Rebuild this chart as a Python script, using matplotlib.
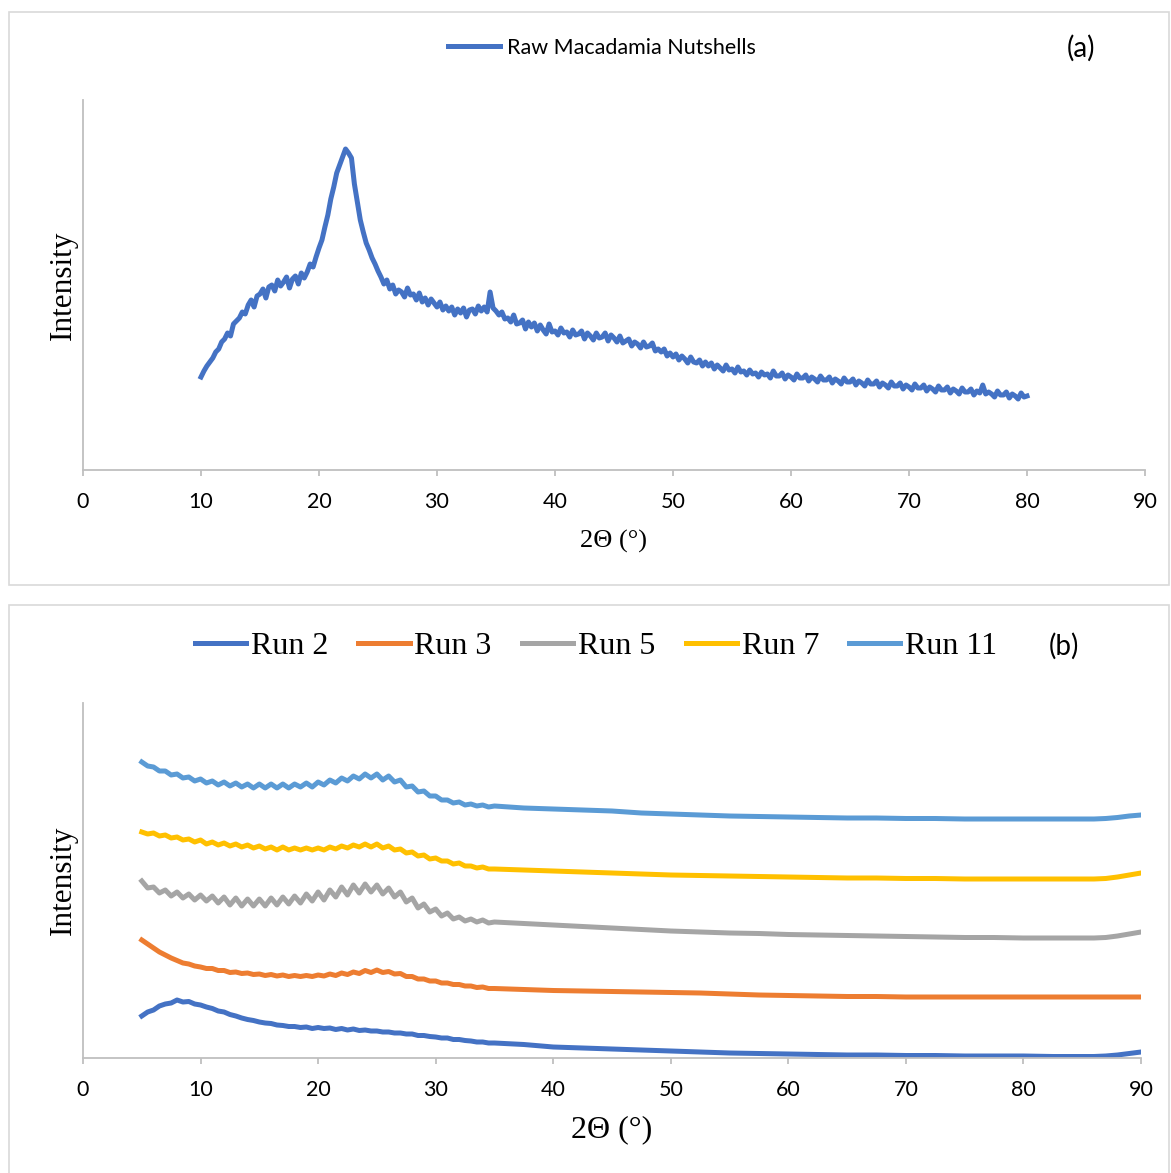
import numpy as np
import matplotlib.pyplot as plt
from matplotlib.patches import Rectangle

# ---- panel (a): raw macadamia nutshells, 10-80 deg in 0.25 steps ----
x_raw = np.arange(10, 80.01, 0.25)
raw = [
    93, 99, 104, 108, 112, 118, 121, 128, 131, 137, 134, 146,
    149, 152, 158, 156, 165, 170, 163, 174, 176, 181, 172, 183,
    185, 179, 190, 184, 188, 193, 182, 191, 194, 186, 197, 192,
    198, 206, 203, 213, 222, 230, 243, 255, 271, 283, 297, 305,
    313, 321, 317, 312, 286, 268, 250, 238, 227, 220, 212, 206,
    199, 193, 186, 190, 181, 185, 176, 180, 178, 173, 182, 175,
    176, 170, 177, 168, 172, 165, 171, 167, 163, 168, 160, 164,
    159, 163, 155, 161, 157, 162, 153, 160, 161, 156, 164, 159,
    163, 158, 178, 162, 159, 155, 158, 151, 152, 148, 155, 146,
    147, 150, 141, 148, 143, 147, 139, 145, 140, 136, 146, 138,
    139, 135, 142, 137, 138, 133, 140, 135, 136, 139, 131, 137,
    134, 130, 137, 132, 133, 137, 129, 135, 132, 128, 134, 127,
    129, 131, 124, 128, 126, 122, 128, 123, 124, 127, 119, 121,
    118, 121, 114, 117, 113, 116, 110, 114, 111, 107, 113, 108,
    107, 110, 104, 108, 104, 107, 101, 105, 102, 99, 105, 100,
    101, 97, 103, 98, 99, 95, 100, 96, 97, 93, 98, 95,
    96, 92, 99, 94, 94, 97, 91, 95, 93, 90, 96, 92,
    92, 95, 89, 93, 91, 88, 94, 90, 90, 93, 87, 91,
    89, 86, 92, 88, 88, 91, 85, 89, 87, 84, 90, 86,
    86, 89, 83, 87, 85, 82, 88, 84, 84, 87, 81, 85,
    83, 80, 86, 82, 82, 85, 79, 83, 81, 78, 84, 80,
    80, 83, 77, 81, 79, 76, 82, 78, 78, 81, 75, 79,
    77, 85, 76, 78, 76, 73, 79, 75, 75, 78, 72, 76,
    74, 71, 77, 73, 74,
]

# ---- panel (b): runs, 5-35 in 0.5 steps, then coarser ----
x_run = np.concatenate([np.arange(5, 35.01, 0.5), np.arange(37.5, 85.01, 2.5),
                        [86, 87, 88, 89, 90]])

run11 = [296, 292, 291, 287, 287, 283, 284, 280, 281, 277, 279, 275, 277, 273, 276, 272,
         275, 271, 274, 270, 274, 270, 274, 270, 274, 270, 274, 271, 275, 271, 276, 273,
         278, 275, 280, 277, 282, 279, 284, 280, 284, 278, 282, 276, 278, 271, 272, 266,
         267, 262, 262, 258, 258, 255, 256, 253, 254, 252, 253, 251, 252,
         250, 249, 248, 247, 245, 244, 243, 242, 241.5, 241, 240.5, 240, 240, 239.5,
         239.5, 239, 239, 239, 239, 239, 239, 239.5, 240.5, 242, 243]
run7 = [226, 224, 225, 222, 223, 220, 221, 218, 219, 216, 218, 214, 216, 213, 215, 212,
        214, 211, 213, 210, 212, 209, 211, 208, 211, 208, 210, 208, 210, 208, 210, 208,
        211, 209, 212, 210, 213, 211, 214, 211, 214, 210, 212, 208, 209, 205, 206, 202,
        203, 199, 200, 197, 197, 194, 195, 192, 192, 190, 191, 189, 189,
        188, 187, 186, 185, 184, 183, 182.5, 182, 181.5, 181, 180.5, 180, 180, 179.5,
        179.5, 179, 179, 179, 179, 179, 179, 179.5, 181, 183, 185]
run5 = [177, 170, 171, 165, 168, 162, 166, 160, 164, 158, 163, 157, 162, 155, 161, 153,
        160, 152, 159, 152, 159, 152, 160, 153, 161, 154, 162, 155, 164, 157, 166, 158,
        168, 161, 171, 163, 173, 165, 174, 166, 173, 164, 170, 161, 166, 156, 160, 150,
        154, 146, 149, 142, 145, 139, 141, 137, 139, 136, 138, 135, 136,
        134.5, 133, 131.5, 130, 128.5, 127, 126, 125, 124.5, 123.5, 123, 122.5, 122,
        121.5, 121, 120.5, 120.5, 120, 120, 120, 120, 120.5, 122, 124, 126]
run3 = [118, 114, 110, 106, 103, 100, 97.5, 95, 94, 92, 91, 89.5, 89.5, 87.5, 87.5, 85.5,
        86, 84.5, 85, 83.5, 84, 82.5, 83.5, 82, 83, 81.5, 82.5, 81.5, 82.5, 81.5, 83, 82,
        84, 82.5, 85, 83.5, 86, 84.5, 87.5, 85.5, 88, 85.5, 86.5, 84, 84.5, 81.5, 81.5, 79,
        79, 77, 77, 75, 75, 73.5, 73.5, 72, 72, 70.5, 71, 69.5, 69.5,
        68.5, 67.5, 67, 66.5, 66, 65.5, 65, 64, 63, 62.5, 62, 61.5, 61.5, 61,
        61, 61, 61, 61, 61, 61, 61, 61, 61, 61, 61]
run2 = [42, 46, 48, 52, 54, 55, 58, 56, 56.5, 54, 53, 51, 49.5, 47, 46, 43.5,
        42, 40, 38.5, 37.5, 36, 35, 34.5, 33, 32.5, 31.5, 31.5, 30.5, 31, 29.5, 30.5, 29.5,
        30, 28.5, 29.5, 28, 29, 27.5, 28, 27, 27, 26, 26, 25, 25, 24, 24, 22.5,
        22.5, 21.5, 21, 20, 20, 18.5, 18.5, 17.5, 17, 16, 16, 15, 15,
        13.5, 11, 10, 9, 8, 7, 6, 5, 4.5, 4, 3.5, 3, 3, 2.5,
        2.5, 2, 2, 2, 1.5, 1.5, 1.5, 2, 3, 4.5, 6]

runs = [("Run 2", run2, "#4472C4"), ("Run 3", run3, "#ED7D31"),
        ("Run 5", run5, "#A5A5A5"), ("Run 7", run7, "#FFC000"),
        ("Run 11", run11, "#5B9BD5")]
xticks = list(range(0, 91, 10))

W, H = 1171, 1173
SANS = "Lato"
SERIF = "Liberation Serif"
AX_COL = "#BFBFBF"


def box(l, t, r, b):
    return [l / W, 1 - b / H, (r - l) / W, (b - t) / H]


def style(ax, ymax, xlab_size, labelpad):
    ax.set_xlim(0, 90)
    ax.set_ylim(0, ymax)
    ax.set_xticks(xticks)
    ax.set_yticks([])
    for s in ("top", "right"):
        ax.spines[s].set_visible(False)
    for s in ("left", "bottom"):
        ax.spines[s].set_color(AX_COL)
        ax.spines[s].set_linewidth(1.3)
    ax.tick_params(axis="x", direction="out", length=4, width=1.3, color=AX_COL,
                   pad=12, labelsize=15.5)
    for lab in ax.get_xticklabels():
        lab.set_fontfamily(SANS)
    ax.set_xlabel("2\u0398 (\u00b0)", family=SERIF, fontsize=xlab_size, labelpad=labelpad)
    ax.set_ylabel("Intensity", family=SERIF, fontsize=22.5, labelpad=4)


fig = plt.figure(figsize=(W / 100, H / 100), dpi=100)

# panel frames
for (l, t, r, b) in [(9, 12, 1169, 585), (9, 605, 1169, 1180)]:
    fig.add_artist(Rectangle((l / W, 1 - b / H), (r - l) / W, (b - t) / H,
                             transform=fig.transFigure, fill=False,
                             edgecolor="#D9D9D9", linewidth=1.2))

# (a)
ax1 = fig.add_axes(box(83, 100, 1145, 470))
ax1.plot(x_raw, raw, color="#4472C4", lw=3.6, label="Raw Macadamia Nutshells")
style(ax1, 370, 19, 13)
fig.legend(*ax1.get_legend_handles_labels(), loc="center",
           bbox_to_anchor=(602 / W, 1 - 48 / H), frameon=False,
           prop={"family": SANS, "size": 15.5}, handlelength=2.4, handletextpad=0.35)
fig.text(1081 / W, 1 - 48 / H, "(a)", family=SANS, fontsize=20, ha="center", va="center")

# (b)
ax2 = fig.add_axes(box(83, 703, 1141, 1058))
for name, vals, col in runs:
    ax2.plot(x_run, vals, color=col, lw=3.6, label=name)
style(ax2, 355, 23, 11)
fig.legend(*ax2.get_legend_handles_labels(), loc="center", ncol=5,
           bbox_to_anchor=(596 / W, 1 - 646 / H), frameon=False,
           prop={"family": SERIF, "size": 23}, handlelength=1.6, handletextpad=0.15,
           columnspacing=0.95)
fig.text(1064 / W, 1 - 646 / H, "(b)", family=SANS, fontsize=20, ha="center", va="center")

fig.savefig("out.png", dpi=100)
